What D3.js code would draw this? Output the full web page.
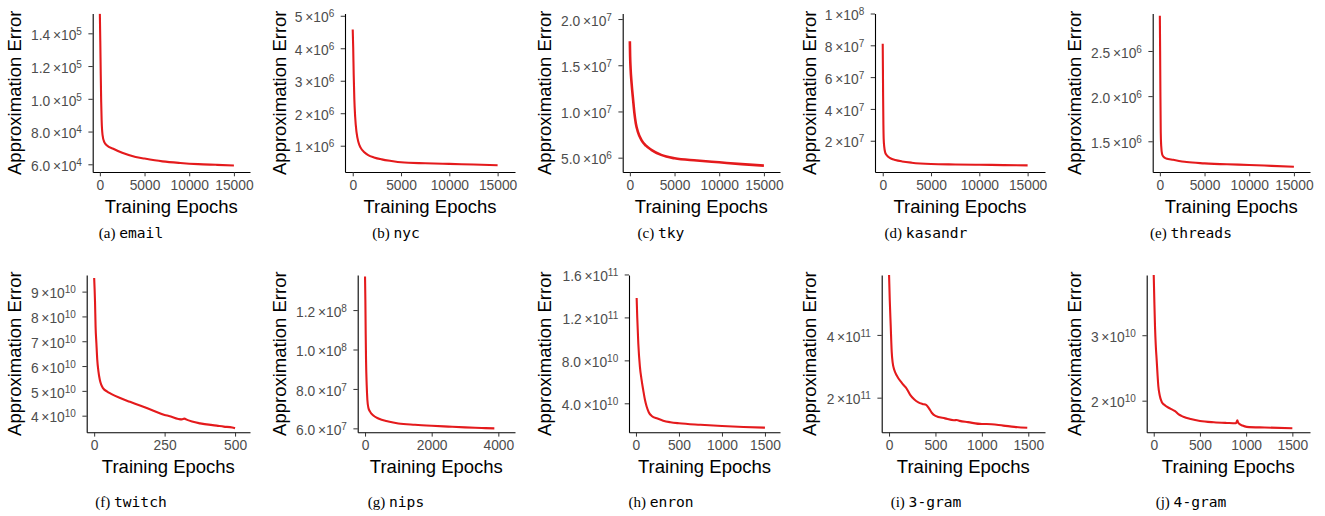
<!DOCTYPE html>
<html>
<head>
<meta charset="utf-8">
<script src="https://cdn.jsdelivr.net/npm/d3@7"></script>
<style>
body { margin: 0; background: #fff; }
svg { display: block; }
.tick text { fill: #4d4d4d; font-family: "Liberation Sans", Arial, sans-serif; font-size: 13.8px; }
.tick line { stroke: #333; stroke-width: 1; }
.domain { stroke: #000; stroke-width: 1.1; }
.title { font-family: "Liberation Sans", Arial, sans-serif; font-size: 18.5px; fill: #000; }
.caption { font-family: "Liberation Serif", "Times New Roman", serif; font-size: 15px; fill: #000; }
.caption .ds { font-family: "DejaVu Sans Mono", "Liberation Mono", monospace; font-size: 14.6px; }
</style>
</head>
<body>
<svg id="chart" width="1325" height="516"></svg>
<script>
// ---- values, [epoch, error] ----
const email = [[0,152000],[50,135000],[100,115000],[150,98000],[200,87000],[300,78000],[500,73500],
  [800,71500],[1500,69500],[2500,67000],[4000,64500],[5000,63500],[7000,61800],[9000,60800],
  [11000,60100],[13000,59700],[15000,59300]];
const nyc = [[0,4.58e6],[50,4.0e6],[100,3.2e6],[165,2.45e6],[250,1.9e6],[400,1.4e6],[600,1.1e6],
  [800,0.95e6],[1200,0.8e6],[1600,0.71e6],[2200,0.64e6],[3000,0.58e6],[4000,0.53e6],[5000,0.49e6],
  [7500,0.46e6],[10000,0.44e6],[12500,0.42e6],[15000,0.40e6]];
const tky = [[0,1.76e7],[30,1.6e7],[80,1.47e7],[200,1.3e7],[370,1.12e7],[500,9.9e6],[670,8.7e6],
  [900,7.8e6],[1300,6.9e6],[1800,6.3e6],[2400,5.85e6],[3500,5.3e6],[5000,4.93e6],[7500,4.7e6],
  [10000,4.5e6],[12500,4.3e6],[15000,4.14e6]];
const kasandr = [[0,8.1e7],[20,6.5e7],[40,4.8e7],[70,3.0e7],[100,2.1e7],[160,1.6e7],[240,1.3e7],
  [400,1.1e7],[600,9.8e6],[900,8.7e6],[1300,7.9e6],[2000,7.0e6],[3000,6.2e6],[5000,5.4e6],
  [7500,5.1e6],[10000,4.9e6],[12500,4.7e6],[15000,4.5e6]];
const threads = [[0,2.89e6],[30,2.5e6],[60,2.05e6],[100,1.6e6],[150,1.45e6],[250,1.36e6],[400,1.33e6],
  [700,1.31e6],[1500,1.295e6],[3000,1.27e6],[5000,1.256e6],[7500,1.245e6],[10000,1.238e6],
  [12500,1.228e6],[15000,1.218e6]];
const twitch = [[0,9.55e10],[3,8.6e10],[5,7.6e10],[8,6.9e10],[11,6.25e10],[15,5.8e10],[20,5.45e10],
  [25,5.25e10],[32,5.1e10],[45,4.98e10],[60,4.88e10],[90,4.72e10],[127,4.56e10],[165,4.4e10],
  [204,4.23e10],[250,4.03e10],[265,3.99e10],[311,3.85e10],[320,3.88e10],[330,3.83e10],[376,3.69e10],
  [435,3.6e10],[460,3.56e10],[490,3.52e10],[500,3.49e10]];
const nips = [[0,1.37e8],[10,1.25e8],[20,1.08e8],[30,9.5e7],[50,8.2e7],[70,7.45e7],[100,7.05e7],
  [150,6.85e7],[250,6.65e7],[400,6.5e7],[700,6.35e7],[1000,6.25e7],[1500,6.18e7],[2000,6.13e7],
  [2500,6.09e7],[3000,6.05e7],[3500,6.02e7],[3880,6.0e7]];
const enron = [[8,1.38e11],[15,1.2e11],[27,9.6e10],[46,7.4e10],[65,6.2e10],[85,5.2e10],[105,4.3e10],
  [124,3.7e10],[150,3.15e10],[183,2.82e10],[250,2.58e10],[317,2.38e10],[400,2.24e10],[500,2.14e10],
  [750,2.0e10],[1000,1.89e10],[1250,1.8e10],[1500,1.73e10]];
const gram3 = [[0,5.95e11],[8,5.1e11],[18,4.3e11],[29,3.45e11],[40,3.1e11],[57,2.88e11],[80,2.72e11],
  [100,2.62e11],[130,2.5e11],[154,2.41e11],[180,2.33e11],[226,2.1e11],[270,1.95e11],[316,1.85e11],
  [360,1.8e11],[400,1.77e11],[430,1.66e11],[460,1.52e11],[500,1.42e11],[603,1.34e11],[700,1.28e11],
  [730,1.29e11],[760,1.26e11],[850,1.22e11],[1000,1.16e11],[1050,1.16e11],[1231,1.11e11],
  [1350,1.07e11],[1489,1.04e11]];
const gram4 = [[0,3.92e10],[7,3.5e10],[14,3.13e10],[22,2.85e10],[32,2.62e10],[42,2.38e10],[50,2.22e10],
  [65,2.08e10],[87,1.98e10],[110,1.94e10],[141,1.91e10],[190,1.87e10],[231,1.84e10],[270,1.79e10],
  [320,1.755e10],[400,1.72e10],[501,1.69e10],[650,1.67e10],[790,1.66e10],[890,1.655e10],
  [905,1.70e10],[915,1.66e10],[960,1.62e10],[1006,1.60e10],[1200,1.59e10],[1500,1.58e10]];

// ---- ticks ----
const xTicksLong = [0, 5000, 10000, 15000];
const xTicksTwitch = [0, 250, 500];
const xTicksNips = [0, 2000, 4000];
const xTicksShort = [0, 500, 1000, 1500];

const emailY = [6e4, 8e4, 1e5, 1.2e5, 1.4e5];
const emailYLabels = ["6.0×10^4", "8.0×10^4", "1.0×10^5", "1.2×10^5", "1.4×10^5"];
const nycY = [1e6, 2e6, 3e6, 4e6, 5e6];
const nycYLabels = ["1×10^6", "2×10^6", "3×10^6", "4×10^6", "5×10^6"];
const tkyY = [5e6, 1e7, 1.5e7, 2e7];
const tkyYLabels = ["5.0×10^6", "1.0×10^7", "1.5×10^7", "2.0×10^7"];
const kasandrY = [2e7, 4e7, 6e7, 8e7, 1e8];
const kasandrYLabels = ["2×10^7", "4×10^7", "6×10^7", "8×10^7", "1×10^8"];
const threadsY = [1.5e6, 2e6, 2.5e6];
const threadsYLabels = ["1.5×10^6", "2.0×10^6", "2.5×10^6"];
const twitchY = [4e10, 5e10, 6e10, 7e10, 8e10, 9e10];
const twitchYLabels = ["4×10^10", "5×10^10", "6×10^10", "7×10^10", "8×10^10", "9×10^10"];
const nipsY = [6e7, 8e7, 1e8, 1.2e8];
const nipsYLabels = ["6.0×10^7", "8.0×10^7", "1.0×10^8", "1.2×10^8"];
const enronY = [4e10, 8e10, 1.2e11, 1.6e11];
const enronYLabels = ["4.0×10^10", "8.0×10^10", "1.2×10^11", "1.6×10^11"];
const gram3Y = [2e11, 4e11];
const gram3YLabels = ["2×10^11", "4×10^11"];
const gram4Y = [2e10, 3e10];
const gram4YLabels = ["2×10^10", "3×10^10"];

const letters = ["a", "b", "c", "d", "e", "f", "g", "h", "i", "j"];
const names = ["email", "nyc", "tky", "kasandr", "threads", "twitch", "nips", "enron", "3-gram", "4-gram"];

const panels = [
  {data: email,   xt: xTicksLong,   yt: emailY,   yl: emailYLabels},
  {data: nyc,     xt: xTicksLong,   yt: nycY,     yl: nycYLabels},
  {data: tky,     xt: xTicksLong,   yt: tkyY,     yl: tkyYLabels},
  {data: kasandr, xt: xTicksLong,   yt: kasandrY, yl: kasandrYLabels},
  {data: threads, xt: xTicksLong,   yt: threadsY, yl: threadsYLabels},
  {data: twitch,  xt: xTicksTwitch, yt: twitchY,  yl: twitchYLabels},
  {data: nips,    xt: xTicksNips,   yt: nipsY,    yl: nipsYLabels},
  {data: enron,   xt: xTicksShort,  yt: enronY,   yl: enronYLabels},
  {data: gram3,   xt: xTicksShort,  yt: gram3Y,   yl: gram3YLabels},
  {data: gram4,   xt: xTicksShort,  yt: gram4Y,   yl: gram4YLabels}
];

// ---- layout: axis position and visible ranges per panel ----
const layout = [
  {left: 92.7, xdom: [-800, 16800], ydom: [5.53e4, 1.521e5]},
  {left: 80,   xdom: [-800, 16800], ydom: [1.91e5, 5.07e6]},
  {left: 92.7, xdom: [-800, 16800], ydom: [3.45e6, 2.06e7]},
  {left: 80,   xdom: [-800, 16800], ydom: [3.5e5, 1.0e8]},
  {left: 92.7, xdom: [-800, 16800], ydom: [1.16e6, 2.915e6]},
  {left: 86.7, xdom: [-26.5, 553],  ydom: [3.33e10, 9.67e10]},
  {left: 92.7, xdom: [-220, 4500],  ydom: [5.8e7, 1.378e8]},
  {left: 99,   xdom: [-81, 1675],   ydom: [1.30e10, 1.595e11]},
  {left: 86.7, xdom: [-79, 1680],   ydom: [8.96e10, 5.91e11]},
  {left: 86.7, xdom: [-76, 1691],   ydom: [1.517e10, 3.92e10]}
];
const rows = [
  {top: 13.5, bottom: 172,   caption: 238},
  {top: 275,  bottom: 432.3, caption: 507}
];
const panelW = 265, plotRight = 250, tickLen = 4.3;

const svg = d3.select("#chart");

panels.forEach((p, i) => {
  const L = layout[i], R = rows[Math.floor(i / 5)];
  const g = svg.append("g").attr("transform", `translate(${(i % 5) * panelW},0)`);

  const x = d3.scaleLinear().domain(L.xdom).range([L.left, plotRight]);
  const y = d3.scaleLinear().domain(L.ydom).range([R.bottom, R.top]);

  g.append("clipPath").attr("id", "clip" + i)
    .append("rect")
    .attr("x", L.left).attr("y", R.top)
    .attr("width", plotRight - L.left).attr("height", R.bottom - R.top);

  g.append("path")
    .datum(p.data)
    .attr("clip-path", `url(#clip${i})`)
    .attr("fill", "none")
    .attr("stroke", "#e41a1c")
    .attr("stroke-width", i === 2 ? 2.6 : 2.1)
    .attr("stroke-linejoin", "round")
    .attr("d", d3.line().x(d => x(d[0])).y(d => y(d[1])).curve(d3.curveMonotoneX));

  // x axis
  g.append("g")
    .attr("transform", `translate(0,${R.bottom})`)
    .call(d3.axisBottom(x).tickValues(p.xt).tickFormat(d => d)
      .tickSize(tickLen).tickSizeOuter(0).tickPadding(4));

  // y axis, labels rebuilt with a raised exponent
  const yg = g.append("g")
    .attr("transform", `translate(${L.left},0)`)
    .call(d3.axisLeft(y).tickValues(p.yt).tickFormat((d, k) => p.yl[k])
      .tickSize(tickLen).tickSizeOuter(0).tickPadding(6.5));
  yg.selectAll(".tick text").attr("dy", "0.45em").each(function (d, k) {
    const t = d3.select(this);
    const [base, exp] = p.yl[k].split("^");
    t.text(null);
    t.append("tspan").text(base.replace("×", "\u2009×"));
    t.append("tspan").attr("dy", "-0.5em").attr("font-size", "10px").text(exp);
  });
  yg.selectAll(".domain").raise();

  g.append("text").attr("class", "title")
    .attr("x", (L.left + plotRight) / 2).attr("y", R.bottom + 40.6)
    .attr("text-anchor", "middle").text("Training Epochs");
  g.append("text").attr("class", "title")
    .attr("transform", `translate(20.5,${(R.top + R.bottom) / 2}) rotate(-90)`)
    .attr("text-anchor", "middle").text("Approximation Error");

  const cap = g.append("text").attr("class", "caption")
    .attr("x", 131).attr("y", R.caption).attr("text-anchor", "middle");
  cap.append("tspan").text(`(${letters[i]}) `);
  cap.append("tspan").attr("class", "ds").text(names[i]);
});
</script>
</body>
</html>
